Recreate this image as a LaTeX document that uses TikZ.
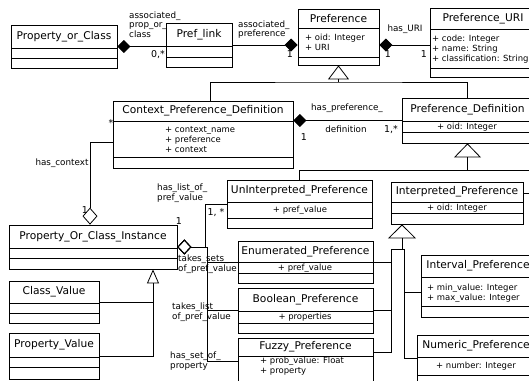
\documentclass[tikz,border=0pt]{standalone}
\usepackage{fontspec}
\setmainfont{DejaVu Sans}
\usetikzlibrary{arrows.meta,fit}
\tikzset{
	classbox/.style={
		% The shape:
		rectangle,inner sep=0pt,
		% The border:
		draw=black,line width=0.8pt,
	}}
\tikzset{
	classname/.style={font=\fontsize{10.7}{12}\selectfont,inner sep=0pt},
	attr/.style={font=\fontsize{8.5}{10}\selectfont,align=left,inner sep=0pt},
	role/.style={font=\fontsize{8.8}{9.8}\selectfont,align=left,inner sep=0pt},
	mult/.style={font=\fontsize{9.5}{11}\selectfont,inner sep=0pt},
	link/.style={line width=0.8pt},
	% whole-part links: the diamond sits at the start
	comp/.style={link,arrows={{Diamond[length=13pt,width=13pt]}-}},
	aggr/.style={link,arrows={{Diamond[open,length=#1,width=15pt]}-}},
	% subclass links: the open triangle sits at the end
	gen/.style={link,arrows={-{Triangle[open,length=14pt,width=#1]}}},
}
% name, x1, y1, x2, y2, first rule, second rule, title
\newcommand{\umlclass}[8]{%
	\coordinate (#1-nw) at (#2,#3);
	\coordinate (#1-se) at (#4,#5);
	\node[classbox,fit=(#1-nw)(#1-se)] (#1) {};
	\draw[link] (#2,#6) -- (#4,#6);
	\draw[link] (#2,#7) -- (#4,#7);
	\node[classname] (#1-name) at ({(#2+#4)/2},{(#3+#6)/2}) {#8};
}
\begin{document}
\begin{tikzpicture}[x=1bp,y=-1bp]
	\useasboundingbox (0,0) rectangle (529,380);
	\clip (0,0) rectangle (529,380);
	% classes
	\umlclass{poc}{11}{25}{117}{68}{48}{58}{Property\_or\_Class}
	\umlclass{plink}{166}{23}{232}{67}{46}{57}{Pref\_link}
	\umlclass{pref}{298}{9}{379}{65}{28}{57}{Preference}
	\umlclass{uri}{430}{8}{536}{77}{29}{68}{Preference\_URI}
	\umlclass{cpd}{113}{101}{293}{168}{121}{157}{Context\_Preference\_Definition}
	\umlclass{pdef}{402}{98}{533}{143}{121}{132}{Preference\_Definition}
	\umlclass{pci}{9}{225}{177}{269}{248}{258}{Property\_Or\_Class\_Instance}
	\umlclass{cval}{9}{281}{99}{323}{303}{313}{Class\_Value}
	\umlclass{pval}{9}{333}{99}{379}{357}{367}{Property\_Value}
	\umlclass{unint}{227}{180}{372}{228}{202}{218}{UnInterpreted\_Preference}
	\umlclass{interp}{391}{182}{523}{224}{202}{213}{Interpreted\_Preference}
	\umlclass{enum}{238}{241}{373}{283}{262}{273}{Enumerated\_Preference}
	\umlclass{bool}{238}{288}{373}{333}{311}{323}{Boolean\_Preference}
	\umlclass{fuzzy}{238}{338}{373}{395}{356}{388}{Fuzzy\_Preference}
	\umlclass{interval}{421}{255}{535}{317}{277}{306}{Interval\_Preference}
	\umlclass{numeric}{417}{335}{535}{395}{357}{375}{Numeric\_Preference}
	% attributes
	\node[attr,anchor=west] (pref-attr) at (305,42.5) {+ oid: Integer\\+ URI};
	\node[attr,anchor=west] (uri-attr) at (432,49) {+ code: Integer\\+ name: String\\+ classification: String};
	\node[attr,anchor=west] (cpd-attr) at (165,140) {+ context\_name\\+ preference\\+ context};
	\node[attr] (pdef-attr) at (467,127) {+ oid: Integer};
	\node[attr] (unint-attr) at (300,210) {+ pref\_value};
	\node[attr] (interp-attr) at (457,208) {+ oid: Integer};
	\node[attr] (enum-attr) at (305,268) {+ pref\_value};
	\node[attr] (bool-attr) at (305,317) {+ properties};
	\node[attr,anchor=west] (fuzzy-attr) at (260,366) {+ prob\_value: Float\\+ property};
	\node[attr,anchor=west] (interval-attr) at (427,293) {+ min\_value: Integer\\+ max\_value: Integer};
	\node[attr] (numeric-attr) at (476,366) {+ number: Integer};
	% associations
	\draw[comp] (poc.east) -- (plink.west |- poc.east);
	\draw[comp] (pref.west |- plink.east) -- (plink.east);
	\draw[comp] (pref.east |- plink.east) -- (uri.west |- plink.east);
	\draw[comp] (cpd.east |- pdef.west) -- (pdef.west);
	\draw[aggr=17pt] (pci.north -| 90,0) |- (cpd.west |- 0,142);
	\coordinate (pcibus) at (205,247);
	\coordinate (pcibus2) at (207,247);
	\draw[aggr=14pt] (pci.east) -- (pcibus) |- (unint.west |- 0,204);
	\draw[aggr=14pt] (pci.east) -- (pcibus2) |- (enum.west);
	\draw[aggr=14pt] (pci.east) -- (pcibus2) |- (bool.west);
	\draw[aggr=14pt] (pci.east) -- (pcibus2) |- (fuzzy.west |- 0,361);
	% association labels
	\node[role,anchor=west] (lbl-poc) at (129,24.5) {associated\_\\prop\_or\_\\class};
	\node[role,anchor=west] (lbl-pref) at (238,29.5) {associated\_\\preference};
	\node[role] (lbl-uri) at (405,29) {has\_URI};
	\node[role] (lbl-def) at (347,108) {has\_preference\_};
	\node[role] (lbl-def2) at (346,129) {definition};
	\node[role] (lbl-context) at (62,163) {has\_context};
	\node[role,anchor=west] (lbl-list) at (157,193) {has\_list\_of\_\\pref\_value};
	\node[role,anchor=west] (lbl-sets) at (178,264) {takes\_sets\_\\of\_pref\_value};
	\node[role,anchor=west] (lbl-takes) at (172,312) {takes\_list\_\\of\_pref\_value};
	\node[role,anchor=west] (lbl-prop) at (170,361) {has\_set\_of\_\\property};
	% multiplicities
	\node[mult] (m-plink) at (158,55) {0,*};
	\node[mult] (m-pref) at (290,54) {1};
	\node[mult] (m-pref2) at (388,54) {1};
	\node[mult] (m-uri) at (424,54) {1};
	\node[mult] (m-cpd) at (304,137) {1};
	\node[mult] (m-pdef) at (391,130) {1,*};
	\node[mult] (m-ctx) at (111,123) {*};
	\node[mult] (m-pci) at (85,210) {1};
	\node[mult] (m-pci2) at (179,221) {1};
	\node[mult] (m-unint) at (216,213) {1, *};
	% generalizations
	\coordinate (prefjoin) at (338.5,82);
	\draw[gen=21pt] (prefjoin) -- (pref.south);
	\draw[link] (cpd.north -| 210,0) |- (prefjoin) -| (pdef.north);
	\coordinate (pdefjoin) at (467.5,170);
	\draw[gen=27pt] (pdefjoin) -- (pdef.south);
	\draw[link] (unint.north) |- (pdefjoin);
	\draw[link] (interp.east |- 0,193) -- ++(20,0) |- (pdefjoin);
	\coordinate (interpjoin) at (402,249);
	\coordinate (leftbus) at (391,249);
	\coordinate (rightbus) at (404,249);
	\draw[gen=28pt] (interpjoin) -- (interp.south -| interpjoin);
	\draw[link] (enum.east) -| (leftbus) -- (rightbus);
	\draw[link] (bool.east) -| (leftbus);
	\draw[link] (fuzzy.east |- 0,352) -| (leftbus);
	\draw[link] (interval.west |- 0,292) -| (rightbus);
	\draw[link] (numeric.west |- 0,358) -| (rightbus);
	\coordinate (pcijoin) at (153,302);
	\draw[gen=12pt] (pval.east) -| (pci.south -| pcijoin);
	\draw[link] (cval.east) -- (pcijoin);
\end{tikzpicture}
\end{document}
